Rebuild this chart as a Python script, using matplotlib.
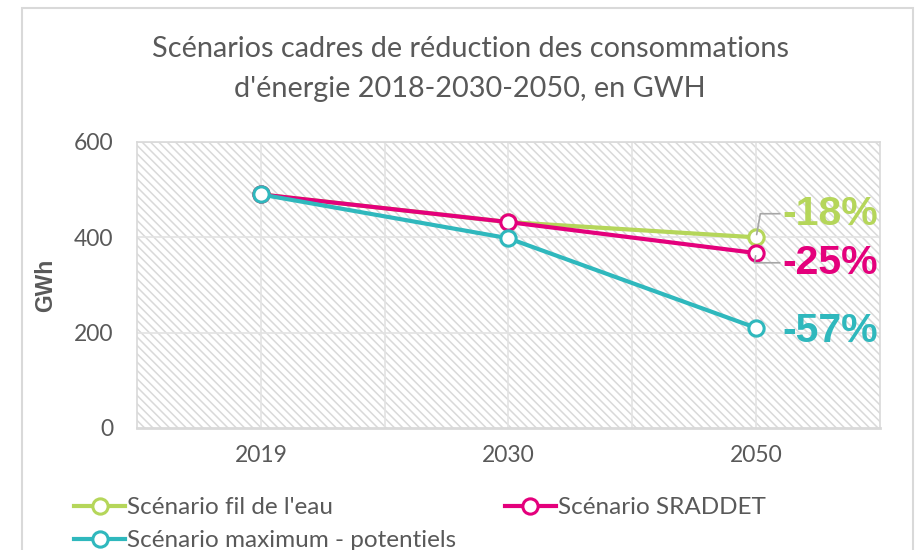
import matplotlib.pyplot as plt
from matplotlib.patches import Rectangle

plt.rcParams['font.family'] = ['Lato', 'DejaVu Sans']
plt.rcParams['hatch.color'] = '#d9d9d9'
plt.rcParams['hatch.linewidth'] = 1.1

# consumption scenarios (GWh)
years = ['2019', '2030', '2050']
fil_de_leau = [490, 432, 400]
sraddet = [490, 432, 367]
maximum = [490, 398, 210]

names = ["Scénario fil de l'eau", "Scénario SRADDET", "Scénario maximum - potentiels"]
colors = ['#b5d65a', '#e4007c', '#2fb8bd']
bold_font = ['Liberation Sans', 'DejaVu Sans']

fig = plt.figure(figsize=(9.2, 5.5), dpi=100)
fig.patches.append(Rectangle((22 / 920, -0.1), (913 - 22) / 920, 1.1 - 8 / 550,
                             transform=fig.transFigure, fill=False,
                             edgecolor='#d9d9d9', linewidth=1.5))
ax = fig.add_axes([137 / 920, 122 / 550, 743 / 920, 286 / 550])

ax.add_patch(Rectangle((0, 0), 1, 1, transform=ax.transAxes, facecolor='white',
                       hatch='\\' * 4, edgecolor='#d9d9d9', linewidth=0, zorder=0))
ax.set_facecolor('white')

x = list(range(len(years)))
series = [fil_de_leau, sraddet, maximum]
lines = []
for vals, name, c in zip(series, names, colors):
    ln, = ax.plot(x, vals, color=c, linewidth=3, marker='o', markersize=11,
                  markerfacecolor='white', markeredgecolor=c, markeredgewidth=2.2,
                  label=name, zorder=3)
    lines.append(ln)

# gridlines
for v in [200, 400, 600]:
    ax.axhline(v, color='#e3e3e3', linewidth=1.2, zorder=1)
for g in [0, 0.5, 1, 1.5, 2]:
    ax.axvline(g, color='#e3e3e3', linewidth=1.2, zorder=1)

# percentage change 2019 -> 2050
offsets = [(19, 17), (19, -7), (19, -2)]
for vals, c, off in zip(series, colors, offsets):
    pct = round((vals[-1] - vals[0]) / vals[0] * 100)
    kw = dict(xy=(x[-1], vals[-1]), xytext=off, textcoords='offset points',
              color=c, fontsize=29.5, fontweight='bold', family=bold_font,
              va='center', ha='left')
    if abs(off[1]) > 5:
        kw['arrowprops'] = dict(arrowstyle='-', color='#a6a6a6', lw=1.2,
                                shrinkA=0, shrinkB=2,
                                connectionstyle='angle,angleA=0,angleB=80,rad=0')
    ax.annotate(f'{pct}%', **kw)

ax.set_xlim(-0.5, 2.5)
ax.set_ylim(0, 600)
ax.set_xticks(x)
ax.set_xticklabels(years)
ax.set_yticks([0, 200, 400, 600])
ax.tick_params(length=0, labelsize=16.5, colors='#595959')
ax.tick_params(axis='x', pad=12)
ax.tick_params(axis='y', pad=17)
for s in ax.spines.values():
    s.set_color('#d9d9d9')
    s.set_linewidth(1.2)
ax.spines['bottom'].set_linewidth(2)
ax.set_ylabel('GWh', fontsize=16.5, fontweight='bold', family=bold_font,
              color='#595959', labelpad=12)

fig.text(470 / 920, 1 - 49 / 550, 'Scénarios cadres de réduction des consommations',
         ha='center', va='center', fontsize=20.8, color='#595959')
fig.text(470 / 920, 1 - 89 / 550, "d'énergie 2018-2030-2050, en GWH",
         ha='center', va='center', fontsize=20.8, color='#595959')

# legend filled column-wise: fil de l'eau / maximum, then SRADDET
order = [0, 2, 1]
fig.legend([lines[i] for i in order], [names[i] for i in order],
           loc='upper left', bbox_to_anchor=(62 / 920, 1 - 485 / 550), ncol=2,
           frameon=False, fontsize=17.5, labelcolor='#595959', handlelength=2.1,
           handletextpad=0.08, columnspacing=2.0, labelspacing=0.5, borderpad=0)

fig.savefig('out.png', dpi=100)
